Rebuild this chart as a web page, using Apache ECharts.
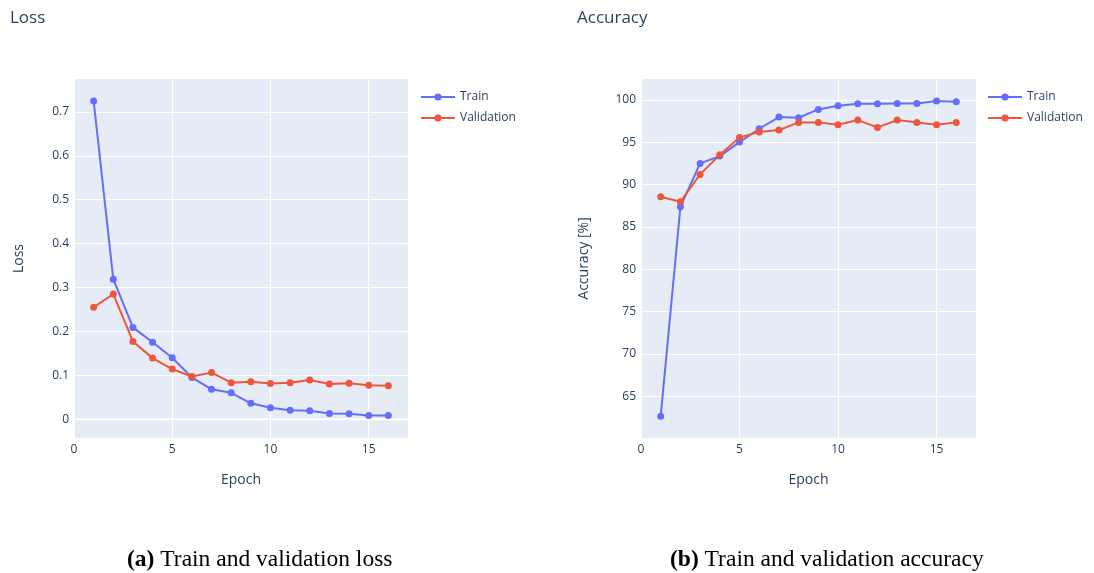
<!DOCTYPE html>
<html><head><meta charset="utf-8">
<script src="https://cdn.jsdelivr.net/npm/echarts@6/dist/echarts.min.js"></script>
<style>html,body{margin:0;padding:0;background:#fff}#c{width:1094px;height:573px}</style>
</head><body><div id="c"></div>
<script>
const epochs = [1,2,3,4,5,6,7,8,9,10,11,12,13,14,15,16];
const trainLoss = [0.725,0.319,0.209,0.175,0.140,0.095,0.068,0.060,0.036,0.026,0.020,0.019,0.013,0.012,0.008,0.008];
const valLoss = [0.255,0.285,0.177,0.139,0.114,0.097,0.106,0.083,0.085,0.081,0.083,0.089,0.080,0.082,0.077,0.076];
const trainAcc = [62.64,87.37,92.49,93.35,95.0,96.58,97.96,97.88,98.86,99.29,99.53,99.53,99.57,99.57,99.85,99.77];
const valAcc = [88.55,87.96,91.19,93.5,95.56,96.19,96.42,97.33,97.33,97.05,97.6,96.74,97.6,97.33,97.05,97.33];
const xTicks = [0,5,10,15];
const lossTicks = [0,0.1,0.2,0.3,0.4,0.5,0.6,0.7];
const accTicks = [65,70,75,80,85,90,95,100];
const zeroLine = [[0,0],[17,0]];

const FONT = '"Open Sans", sans-serif';
const TXT = '#2a3f5f';
const C_TRAIN = '#636efa', C_VAL = '#EF553B';
const pair = (xs, ys) => xs.map((x,i)=>[x, ys[i]]);

function xAxis(gi){
  return {type:'value', gridIndex:gi, min:0, max:17,
    name:'Epoch', nameLocation:'middle', nameGap:35,
    nameTextStyle:{fontFamily:FONT, fontSize:14, color:TXT},
    axisLine:{show:false}, axisTick:{show:false, customValues:xTicks},
    axisLabel:{customValues:xTicks, fontFamily:FONT, fontSize:12, color:TXT, margin:6},
    splitLine:{show:true, lineStyle:{color:'#fff', width:1}}};
}
function yAxis(gi, min, max, ticks, name, gap, fmt){
  return {type:'value', gridIndex:gi, min:min, max:max,
    name:name, nameLocation:'middle', nameGap:gap,
    nameTextStyle:{fontFamily:FONT, fontSize:14, color:TXT},
    axisLine:{show:false}, axisTick:{show:false, customValues:ticks},
    axisLabel:{customValues:ticks, fontFamily:FONT, fontSize:12, color:TXT, margin:5, formatter:fmt},
    splitLine:{show:true, lineStyle:{color:'#fff', width:1}}};
}
function line(name, color, gi, data){
  return {type:'line', name:name, xAxisIndex:gi, yAxisIndex:gi, data:data,
    symbol:'circle', symbolSize:7, showSymbol:true, z:3,
    lineStyle:{color:color, width:2}, itemStyle:{color:color}};
}
function legend(left){
  return {data:['Train','Validation'], orient:'vertical', left:left, top:91, padding:0,
    itemWidth:34, itemHeight:9, itemGap:9,
    textStyle:{fontFamily:FONT, fontSize:12, color:TXT}};
}

const chart = echarts.init(document.getElementById('c'), null, {renderer:'canvas'});
chart.setOption({
  backgroundColor:'#fff',
  animation:false,
  title:[
    {text:'Loss', left:10, top:10, padding:0, textStyle:{fontFamily:FONT, fontSize:17, fontWeight:'normal', color:TXT}},
    {text:'Accuracy', left:577, top:10, padding:0, textStyle:{fontFamily:FONT, fontSize:17, fontWeight:'normal', color:TXT}}
  ],
  legend:[legend(420), legend(987)],
  grid:[
    {left:74, top:79, width:334, height:359, show:true, backgroundColor:'#E5ECF6', borderWidth:0},
    {left:641, top:79, width:335, height:359, show:true, backgroundColor:'#E5ECF6', borderWidth:0}
  ],
  xAxis:[xAxis(0), xAxis(1)],
  yAxis:[
    yAxis(0, -0.043, 0.775, lossTicks, 'Loss', 48, v => (v===0?'0':String(Math.round(v*10)/10))),
    yAxis(1, 60.08, 102.45, accTicks, 'Accuracy [%]', 50, v => String(v))
  ],
  series:[
    {type:'line', name:'zero', xAxisIndex:0, yAxisIndex:0, data:zeroLine, symbol:'none', silent:true, z:1,
      lineStyle:{color:'#fff', width:2}},
    line('Train', C_TRAIN, 0, pair(epochs, trainLoss)),
    line('Validation', C_VAL, 0, pair(epochs, valLoss)),
    line('Train', C_TRAIN, 1, pair(epochs, trainAcc)),
    line('Validation', C_VAL, 1, pair(epochs, valAcc))
  ],
  graphic:[
    {type:'text', left:127, top:548, style:{
      text:'{b|(a)} Train and validation loss',
      font:'23.5px "Liberation Serif", serif', fill:'#000',
      rich:{b:{fontFamily:'"Liberation Serif", serif', fontSize:23.5, fontWeight:'bold', fill:'#000'}}}},
    {type:'text', left:670, top:548, style:{
      text:'{b|(b)} Train and validation accuracy',
      font:'23.5px "Liberation Serif", serif', fill:'#000',
      rich:{b:{fontFamily:'"Liberation Serif", serif', fontSize:23.5, fontWeight:'bold', fill:'#000'}}}}
  ]
});
</script></body></html>
